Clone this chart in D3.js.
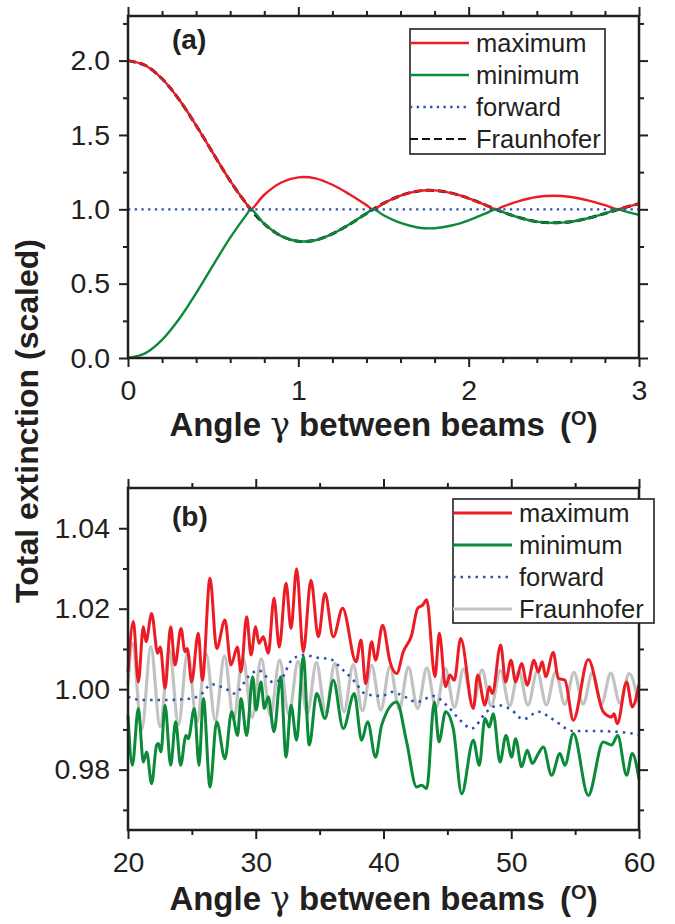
<!DOCTYPE html>
<html>
<head>
<meta charset="utf-8">
<script src="https://d3js.org/d3.v7.min.js"></script>
<style>
  body { margin: 0; background: #fff; }
  svg { display: block; }
  text { font-family: "Liberation Sans", Arial, sans-serif; fill: #231f20; }
</style>
</head>
<body>
<div id="chart"></div>
<script>
// ---- panel (a) : small angles ----
var angleA = [0, 0.1, 0.2, 0.3, 0.4, 0.5, 0.6, 0.7, 0.72, 0.8, 0.9, 1.0, 1.1, 1.2, 1.3, 1.4, 1.44, 1.5, 1.6, 1.7, 1.8, 1.9, 2.0, 2.1, 2.16, 2.2, 2.3, 2.4, 2.5, 2.6, 2.7, 2.8, 2.88, 2.9, 3.0];
var maxA = [2, 1.969, 1.878, 1.738, 1.564, 1.376, 1.191, 1.029, 1, 1.098, 1.180, 1.215, 1.208, 1.165, 1.101, 1.028, 1, 1.040, 1.092, 1.122, 1.127, 1.109, 1.074, 1.028, 1, 1.018, 1.057, 1.083, 1.091, 1.083, 1.060, 1.028, 1, 1.007, 1.038];
var minA = [0, 0.031, 0.122, 0.262, 0.436, 0.624, 0.809, 0.971, 1, 0.902, 0.820, 0.785, 0.792, 0.835, 0.899, 0.972, 1, 0.960, 0.908, 0.878, 0.873, 0.891, 0.926, 0.972, 1, 0.982, 0.943, 0.917, 0.909, 0.917, 0.940, 0.972, 1, 0.993, 0.962];
var fraunA = [2, 1.969, 1.878, 1.738, 1.564, 1.376, 1.191, 1.029, 1, 0.902, 0.820, 0.785, 0.792, 0.835, 0.899, 0.972, 1, 1.040, 1.092, 1.122, 1.127, 1.109, 1.074, 1.028, 1, 0.982, 0.943, 0.917, 0.909, 0.917, 0.940, 0.972, 1, 1.007, 1.038];
var fwdAngleA = [0, 3];
var fwdA = [1, 1];
var xTicksA = [0, 1, 2, 3];
var yTicksA = [0, 0.5, 1.0, 1.5, 2.0];

// ---- panel (b) : large angles ----
var maxAngleB = [20.00, 20.42, 20.81, 21.20, 21.41, 21.85, 22.32, 22.53, 22.90, 23.34, 23.68, 24.15, 24.46, 24.64, 24.98, 25.50, 25.82, 26.42, 26.94, 27.59, 28.06, 28.56, 28.84, 29.29, 29.63, 29.99, 30.25, 30.59, 30.98, 31.43, 31.84, 32.37, 32.76, 33.20, 33.72, 34.32, 34.90, 35.42, 36.07, 36.80, 37.85, 38.24, 38.60, 39.07, 39.38, 39.93, 40.51, 41.03, 41.55, 42.20, 42.67, 43.06, 43.38, 44.03, 44.37, 44.86, 45.20, 45.54, 46.04, 47.03, 47.37, 47.94, 48.28, 48.52, 49.17, 49.56, 49.98, 50.34, 50.81, 51.25, 51.78, 52.12, 52.43, 52.69, 53.29, 53.68, 54.20, 54.86, 56.03, 57.20, 57.86, 58.04, 58.30, 59.03, 59.47, 60.00];
var maxB = [1.0043, 1.0168, 1.0018, 1.0155, 1.0118, 1.0188, 1.0089, 1.0105, 1.0002, 1.0155, 1.0060, 1.0151, 1.0093, 1.0101, 1.0018, 1.0139, 1.0022, 1.0276, 1.0101, 1.0172, 1.0060, 1.0105, 1.0043, 1.0180, 1.0085, 1.0155, 1.0114, 1.0130, 1.0089, 1.0226, 1.0105, 1.0263, 1.0151, 1.0299, 1.0093, 1.0271, 1.0130, 1.0238, 1.0130, 1.0201, 1.0068, 1.0122, 1.0014, 1.0118, 1.0072, 1.0159, 1.0068, 1.0039, 1.0093, 1.0134, 1.0201, 1.0209, 1.0222, 1.0031, 1.0139, 1.0006, 1.0035, 1.0022, 1.0126, 0.9952, 1.0035, 0.9960, 1.0006, 0.9989, 1.0110, 1.0018, 1.0072, 1.0018, 1.0064, 1.0010, 1.0072, 1.0043, 1.0068, 1.0031, 1.0091, 1.0027, 1.0022, 0.9923, 1.0074, 0.9944, 0.9931, 0.9939, 0.9914, 1.0018, 0.9956, 1.0012];
var minAngleB = [20.00, 20.34, 20.81, 21.20, 21.46, 21.85, 22.24, 22.37, 22.58, 22.90, 23.34, 23.73, 24.12, 24.54, 24.72, 25.19, 25.56, 25.90, 26.42, 26.94, 27.59, 28.11, 28.58, 28.84, 29.29, 29.76, 30.02, 30.41, 30.67, 30.98, 31.43, 31.95, 32.37, 32.76, 33.20, 33.72, 34.19, 34.77, 35.42, 36.07, 36.85, 37.71, 38.29, 38.76, 39.38, 39.85, 41.03, 41.81, 42.59, 42.98, 43.38, 43.98, 44.34, 44.86, 45.46, 46.12, 47.03, 47.50, 47.94, 48.28, 48.59, 49.12, 49.59, 50.03, 50.34, 50.81, 51.25, 51.65, 52.12, 52.51, 53.16, 53.81, 54.20, 54.86, 56.03, 57.20, 57.86, 58.33, 59.03, 59.47, 60.00];
var minB = [0.9935, 0.9811, 0.9952, 0.9819, 0.9844, 0.9765, 0.9861, 0.9865, 0.9844, 0.9960, 0.9811, 0.9919, 0.9811, 0.9885, 0.9877, 0.9952, 0.9811, 0.9977, 0.9757, 0.9919, 0.9827, 0.9944, 0.9885, 0.9977, 0.9885, 1.0031, 0.9948, 1.0018, 0.9952, 0.9981, 0.9894, 1.0031, 0.9831, 0.9960, 0.9873, 1.0081, 0.9861, 0.9989, 0.9927, 1.0022, 0.9902, 0.9989, 0.9873, 0.9919, 0.9831, 0.9910, 0.9968, 0.9869, 0.9757, 0.9761, 0.9753, 0.9968, 0.9869, 0.9944, 0.9902, 0.9740, 0.9873, 0.9811, 0.9927, 0.9906, 0.9939, 0.9819, 0.9885, 0.9831, 0.9877, 0.9807, 0.9848, 0.9815, 0.9840, 0.9856, 0.9786, 0.9840, 0.9811, 0.9890, 0.9736, 0.9869, 0.9861, 0.9885, 0.9786, 0.9840, 0.9777];
var fwdAngleB = [20.0, 21.07, 22.90, 24.98, 25.64, 26.55, 27.59, 28.37, 29.42, 30.20, 31.38, 32.03, 32.81, 33.72, 34.90, 35.81, 36.72, 37.77, 38.55, 39.85, 40.64, 41.68, 42.59, 43.90, 45.07, 46.12, 46.90, 48.07, 48.98, 50.03, 50.94, 52.12, 53.16, 54.86, 56.29, 58.38, 60.0];
var fwdB = [0.9981, 0.9973, 0.9973, 0.9977, 0.9985, 1.0012, 1.0002, 0.9989, 1.0031, 1.0047, 1.0017, 1.0027, 1.0072, 1.0085, 1.0078, 1.0075, 1.0051, 1.0018, 0.9989, 0.9983, 0.9993, 0.9981, 0.9968, 0.9983, 0.9956, 0.9919, 0.9902, 0.9944, 0.9960, 0.9948, 0.9925, 0.9944, 0.9927, 0.9896, 0.9896, 0.9894, 0.9887];
var frAngleB = [20.0, 20.35, 21.07, 21.79, 22.51, 23.23, 23.95, 24.67, 25.39, 26.11, 26.83, 27.55, 28.27, 28.99, 29.71, 30.43, 31.15, 31.87, 32.59, 33.31, 34.03, 34.75, 35.47, 36.19, 36.91, 37.63, 38.35, 39.07, 39.79, 40.51, 41.23, 41.95, 42.67, 43.39, 44.11, 44.83, 45.55, 46.27, 46.99, 47.71, 48.43, 49.15, 49.87, 50.59, 51.31, 52.03, 52.75, 53.47, 54.19, 54.91, 55.63, 56.35, 57.07, 57.79, 58.51, 59.23, 59.95];
var frB = [1.0010, 1.0113, 0.9899, 1.0106, 0.9906, 1.0099, 0.9912, 1.0093, 0.9917, 1.0088, 0.9922, 1.0083, 0.9926, 1.0079, 0.9930, 1.0076, 0.9933, 1.0072, 0.9936, 1.0069, 0.9939, 1.0066, 0.9942, 1.0064, 0.9944, 1.0061, 0.9946, 1.0059, 0.9948, 1.0057, 0.9950, 1.0055, 0.9952, 1.0053, 0.9954, 1.0051, 0.9955, 1.0050, 0.9956, 1.0048, 0.9958, 1.0047, 0.9959, 1.0045, 0.9960, 1.0044, 0.9961, 1.0043, 0.9962, 1.0042, 0.9963, 1.0041, 0.9964, 1.0040, 0.9965, 1.0039, 0.9966];
var xTicksB = [20, 30, 40, 50, 60];
var yTicksB = [0.98, 1.00, 1.02, 1.04];

var legendNames = ["maximum", "minimum", "forward", "Fraunhofer"];

var RED = "#ec1c24", GREEN = "#0b8a3a", BLUE = "#2d4fae", GRAY = "#c2c2c2", INK = "#231f20";

var svg = d3.select("#chart").append("svg").attr("width", 675).attr("height", 924);

function zip(xs, ys) { return xs.map(function (x, i) { return [x, ys[i]]; }); }

function drawAxes(g, x, y, w, h, xMajor, xMinor, yMajor, yMinor, xFmt, yFmt) {
  function put(axis, tr) {
    var a = g.append("g").attr("transform", tr).call(axis);
    a.select(".domain").remove();
    a.selectAll("line").attr("stroke", INK).attr("stroke-width", 2);
    a.selectAll("text").style("font-size", "28.5px").attr("fill", INK);
    return a;
  }
  // minor ticks
  put(d3.axisBottom(x).tickValues(xMinor).tickSize(5).tickFormat(""), "translate(0," + h + ")");
  put(d3.axisTop(x).tickValues(xMinor).tickSize(5).tickFormat(""), "translate(0,0)");
  put(d3.axisLeft(y).tickValues(yMinor).tickSize(5).tickFormat(""), "translate(0,0)");
  put(d3.axisRight(y).tickValues(yMinor).tickSize(5).tickFormat(""), "translate(" + w + ",0)");
  // major ticks
  put(d3.axisBottom(x).tickValues(xMajor).tickSize(9).tickPadding(13).tickFormat(xFmt), "translate(0," + h + ")");
  put(d3.axisTop(x).tickValues(xMajor).tickSize(9).tickFormat(""), "translate(0,0)");
  put(d3.axisLeft(y).tickValues(yMajor).tickSize(9).tickPadding(9).tickFormat(yFmt), "translate(0,0)");
  put(d3.axisRight(y).tickValues(yMajor).tickSize(9).tickFormat(""), "translate(" + w + ",0)");
  g.append("rect").attr("width", w).attr("height", h)
    .attr("fill", "none").attr("stroke", INK).attr("stroke-width", 2.5);
}

function drawLegend(g, lx, ly, bw, bh, styles) {
  var lg = g.append("g").attr("transform", "translate(" + lx + "," + ly + ")");
  lg.append("rect").attr("width", bw).attr("height", bh)
    .attr("fill", "#fff").attr("stroke", INK).attr("stroke-width", 1.6);
  legendNames.forEach(function (name, i) {
    var yy = 14 + i * 32;
    var s = styles[i];
    lg.append("line").attr("x1", 0).attr("x2", 59).attr("y1", yy).attr("y2", yy)
      .attr("stroke", s.color).attr("stroke-width", s.width)
      .attr("stroke-dasharray", s.dash || null);
    lg.append("text").attr("x", 66).attr("y", yy + 9).style("font-size", "25.5px").text(name);
  });
}

function xTitle(g, cx, by) {
  var t = g.append("text").attr("x", cx).attr("y", by).attr("text-anchor", "middle")
    .style("font-size", "33px").style("font-weight", "bold");
  t.append("tspan").text("Angle ");
  t.append("tspan").style("font-family", "'DejaVu Serif', serif").style("font-weight", "normal").text("γ");
  t.append("tspan").text(" between beams ");
  t.append("tspan").attr("dx", 6).text("(");
  t.append("tspan").attr("dy", -11).style("font-size", "20px").text("O");
  t.append("tspan").attr("dy", 11).text(")");
}

// ---------- panel (a) ----------
var left = 128, W = 511, H = 342;
var gA = svg.append("g").attr("transform", "translate(" + left + ",16)");
var xA = d3.scaleLinear().domain([0, 3]).range([0, W]);
var yA = d3.scaleLinear().domain([0, 2.3]).range([H, 0]);
var lineA = d3.line().x(function (d) { return xA(d[0]); }).y(function (d) { return yA(d[1]); })
  .curve(d3.curveCatmullRom.alpha(0.5));

gA.append("path").attr("d", lineA(zip(angleA, fraunA))).attr("fill", "none")
  .attr("stroke", "#111").attr("stroke-width", 3).attr("stroke-dasharray", "8,4");
gA.append("path").attr("d", lineA(zip(angleA, maxA))).attr("fill", "none")
  .attr("stroke", RED).attr("stroke-width", 2.4);
gA.append("path").attr("d", lineA(zip(angleA, minA))).attr("fill", "none")
  .attr("stroke", GREEN).attr("stroke-width", 2.4);
gA.append("path").attr("d", lineA(zip(fwdAngleA, fwdA))).attr("fill", "none")
  .attr("stroke", BLUE).attr("stroke-width", 2.3).attr("stroke-dasharray", "2.3,4.4");

drawAxes(gA, xA, yA, W, H, xTicksA, d3.range(0.2, 3, 0.2).filter(function (v) { return Math.abs(v - Math.round(v)) > 0.01; }),
  yTicksA, [0.25, 0.75, 1.25, 1.75, 2.25], d3.format("d"), d3.format(".1f"));

drawLegend(gA, 282, 13, 195, 125, [
  { color: RED, width: 2.4 }, { color: GREEN, width: 2.4 },
  { color: BLUE, width: 2.3, dash: "2.3,4.4" }, { color: "#111", width: 2.2, dash: "8,4" }]);

gA.append("text").attr("x", 44).attr("y", 33).style("font-size", "28px").style("font-weight", "bold").text("(a)");
xTitle(svg, left + W / 2, 436);

// ---------- panel (b) ----------
var gB = svg.append("g").attr("transform", "translate(" + left + ",488)");
var xB = d3.scaleLinear().domain([20, 60]).range([0, W]);
var yB = d3.scaleLinear().domain([0.965, 1.05]).range([H, 0]);
var lineB = d3.line().x(function (d) { return xB(d[0]); }).y(function (d) { return yB(d[1]); })
  .curve(d3.curveMonotoneX);

gB.append("path").attr("d", lineB(zip(frAngleB, frB))).attr("fill", "none")
  .attr("stroke", GRAY).attr("stroke-width", 3.2);
gB.append("path").attr("d", lineB(zip(maxAngleB, maxB))).attr("fill", "none")
  .attr("stroke", RED).attr("stroke-width", 3).attr("stroke-linejoin", "round");
gB.append("path").attr("d", lineB(zip(minAngleB, minB))).attr("fill", "none")
  .attr("stroke", GREEN).attr("stroke-width", 3).attr("stroke-linejoin", "round");
gB.append("path").attr("d", lineB(zip(fwdAngleB, fwdB))).attr("fill", "none")
  .attr("stroke", BLUE).attr("stroke-width", 2.5).attr("stroke-dasharray", "2.5,5");

drawAxes(gB, xB, yB, W, H, xTicksB, [25, 35, 45, 55],
  yTicksB, [0.97, 0.99, 1.01, 1.03], d3.format("d"), d3.format(".2f"));

drawLegend(gB, 325, 11, 201, 124, [
  { color: RED, width: 3 }, { color: GREEN, width: 3 },
  { color: BLUE, width: 2.5, dash: "2.5,5" }, { color: GRAY, width: 3.2 }]);

gB.append("text").attr("x", 44).attr("y", 38).style("font-size", "28px").style("font-weight", "bold").text("(b)");
xTitle(svg, left + W / 2, 910);

// shared y title
svg.append("text").attr("transform", "translate(38,421) rotate(-90)").attr("text-anchor", "middle")
  .style("font-size", "32px").style("font-weight", "bold").text("Total extinction (scaled)");
</script>
</body>
</html>
